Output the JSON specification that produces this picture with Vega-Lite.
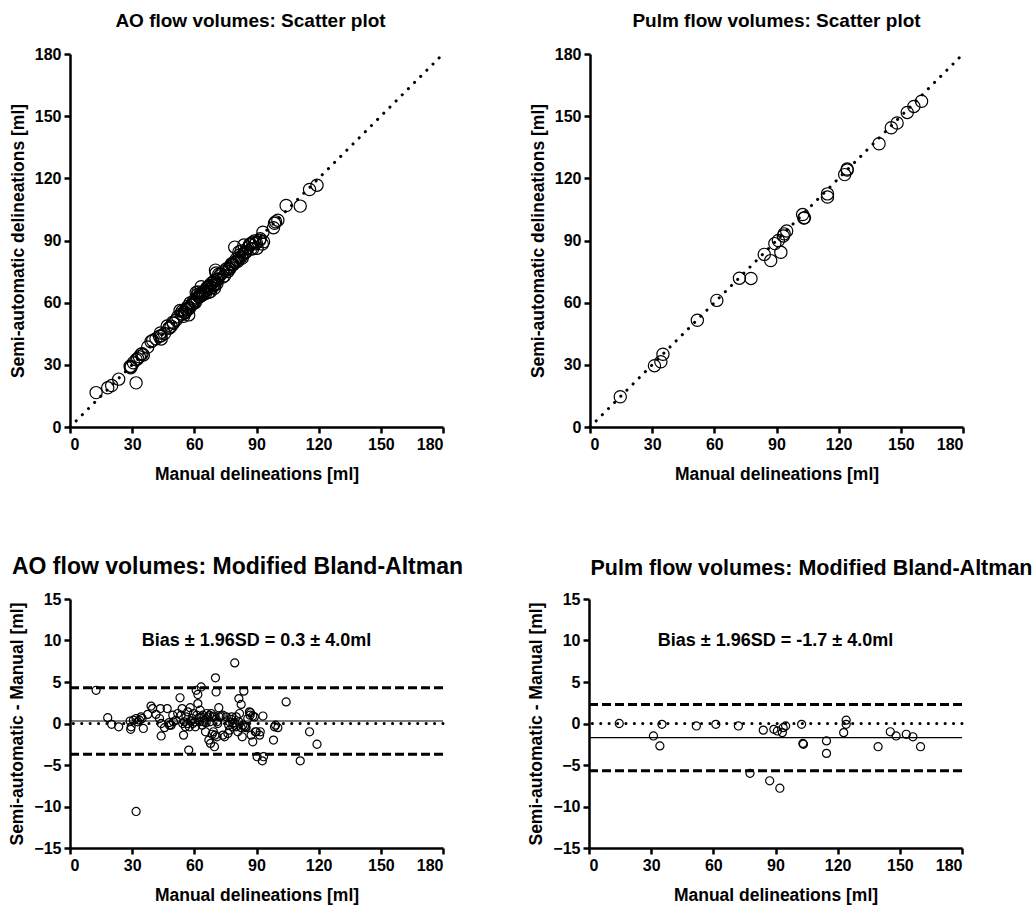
{
  "$schema": "https://vega.github.io/schema/vega-lite/v6.json",
  "padding": {"left": 8, "top": 12, "right": 0, "bottom": 5},
  "datasets": {
    "ao": [
      {"manual": 12.6, "semi": 16.6, "diff": 4.0},
      {"manual": 18.2, "semi": 18.9, "diff": 0.7},
      {"manual": 20.1, "semi": 20.0, "diff": -0.1},
      {"manual": 23.5, "semi": 23.1, "diff": -0.4},
      {"manual": 29.0, "semi": 29.3, "diff": 0.3},
      {"manual": 29.5, "semi": 29.1, "diff": -0.4},
      {"manual": 29.3, "semi": 28.6, "diff": -0.7},
      {"manual": 30.6, "semi": 31.0, "diff": 0.4},
      {"manual": 31.9, "semi": 32.5, "diff": 0.6},
      {"manual": 33.5, "semi": 33.9, "diff": 0.4},
      {"manual": 34.3, "semi": 35.1, "diff": 0.8},
      {"manual": 35.4, "semi": 34.8, "diff": -0.6},
      {"manual": 37.5, "semi": 38.6, "diff": 1.1},
      {"manual": 39.1, "semi": 41.2, "diff": 2.1},
      {"manual": 39.9, "semi": 41.7, "diff": 1.8},
      {"manual": 43.2, "semi": 43.8, "diff": 0.6},
      {"manual": 43.6, "semi": 45.4, "diff": 1.8},
      {"manual": 44.0, "semi": 44.0, "diff": 0.0},
      {"manual": 44.0, "semi": 42.5, "diff": -1.5},
      {"manual": 45.6, "semi": 45.1, "diff": -0.5},
      {"manual": 46.9, "semi": 48.7, "diff": 1.8},
      {"manual": 47.7, "semi": 47.8, "diff": 0.1},
      {"manual": 48.8, "semi": 48.6, "diff": -0.2},
      {"manual": 49.6, "semi": 50.6, "diff": 1.0},
      {"manual": 51.2, "semi": 51.6, "diff": 0.4},
      {"manual": 53.1, "semi": 56.2, "diff": 3.1},
      {"manual": 53.6, "semi": 54.6, "diff": 1.0},
      {"manual": 54.1, "semi": 55.9, "diff": 1.8},
      {"manual": 54.8, "semi": 53.4, "diff": -1.4},
      {"manual": 55.2, "semi": 55.4, "diff": 0.2},
      {"manual": 56.0, "semi": 56.8, "diff": 0.8},
      {"manual": 56.8, "semi": 58.2, "diff": 1.4},
      {"manual": 57.3, "semi": 54.1, "diff": -3.2},
      {"manual": 57.6, "semi": 57.2, "diff": -0.4},
      {"manual": 58.0, "semi": 59.9, "diff": 1.9},
      {"manual": 58.9, "semi": 59.5, "diff": 0.6},
      {"manual": 59.6, "semi": 60.8, "diff": 1.2},
      {"manual": 60.1, "semi": 60.3, "diff": 0.2},
      {"manual": 60.9, "semi": 64.9, "diff": 4.0},
      {"manual": 61.7, "semi": 65.2, "diff": 3.5},
      {"manual": 61.7, "semi": 64.1, "diff": 2.4},
      {"manual": 62.2, "semi": 62.9, "diff": 0.7},
      {"manual": 62.8, "semi": 64.4, "diff": 1.6},
      {"manual": 63.3, "semi": 67.7, "diff": 4.4},
      {"manual": 63.8, "semi": 63.6, "diff": -0.2},
      {"manual": 64.1, "semi": 65.1, "diff": 1.0},
      {"manual": 64.9, "semi": 65.3, "diff": 0.4},
      {"manual": 65.4, "semi": 64.4, "diff": -1.0},
      {"manual": 66.0, "semi": 67.2, "diff": 1.2},
      {"manual": 67.0, "semi": 65.0, "diff": -2.0},
      {"manual": 67.3, "semi": 68.3, "diff": 1.0},
      {"manual": 67.8, "semi": 65.4, "diff": -2.4},
      {"manual": 68.6, "semi": 67.3, "diff": -1.3},
      {"manual": 68.9, "semi": 69.7, "diff": 0.8},
      {"manual": 69.7, "semi": 66.9, "diff": -2.8},
      {"manual": 70.2, "semi": 75.7, "diff": 5.5},
      {"manual": 70.5, "semi": 74.3, "diff": 3.8},
      {"manual": 70.9, "semi": 69.3, "diff": -1.6},
      {"manual": 71.3, "semi": 71.3, "diff": 0.0},
      {"manual": 71.8, "semi": 73.7, "diff": 1.9},
      {"manual": 72.1, "semi": 72.9, "diff": 0.8},
      {"manual": 72.9, "semi": 73.8, "diff": 0.9},
      {"manual": 73.8, "semi": 72.4, "diff": -1.4},
      {"manual": 74.6, "semi": 73.0, "diff": -1.6},
      {"manual": 75.4, "semi": 76.2, "diff": 0.8},
      {"manual": 76.2, "semi": 75.0, "diff": -1.2},
      {"manual": 77.0, "semi": 77.2, "diff": 0.2},
      {"manual": 77.8, "semi": 78.3, "diff": 0.5},
      {"manual": 78.6, "semi": 78.6, "diff": 0.0},
      {"manual": 79.5, "semi": 86.8, "diff": 7.3},
      {"manual": 80.2, "semi": 79.8, "diff": -0.4},
      {"manual": 81.0, "semi": 80.0, "diff": -1.0},
      {"manual": 81.5, "semi": 84.5, "diff": 3.0},
      {"manual": 81.8, "semi": 83.0, "diff": 1.2},
      {"manual": 82.6, "semi": 84.9, "diff": 2.3},
      {"manual": 83.1, "semi": 81.5, "diff": -1.6},
      {"manual": 83.4, "semi": 83.2, "diff": -0.2},
      {"manual": 83.9, "semi": 87.8, "diff": 3.9},
      {"manual": 84.7, "semi": 84.3, "diff": -0.4},
      {"manual": 85.8, "semi": 86.4, "diff": 0.6},
      {"manual": 86.6, "semi": 88.0, "diff": 1.4},
      {"manual": 86.9, "semi": 87.9, "diff": 1.0},
      {"manual": 87.4, "semi": 86.0, "diff": -1.4},
      {"manual": 88.2, "semi": 86.0, "diff": -2.2},
      {"manual": 89.0, "semi": 89.8, "diff": 0.8},
      {"manual": 89.9, "semi": 88.9, "diff": -1.0},
      {"manual": 90.3, "semi": 86.3, "diff": -4.0},
      {"manual": 91.5, "semi": 90.1, "diff": -1.4},
      {"manual": 92.8, "semi": 88.3, "diff": -4.5},
      {"manual": 93.1, "semi": 94.0, "diff": 0.9},
      {"manual": 93.4, "semi": 89.4, "diff": -4.0},
      {"manual": 98.2, "semi": 96.2, "diff": -2.0},
      {"manual": 98.7, "semi": 98.3, "diff": -0.4},
      {"manual": 100.3, "semi": 99.8, "diff": -0.5},
      {"manual": 104.3, "semi": 106.9, "diff": 2.6},
      {"manual": 111.1, "semi": 106.6, "diff": -4.5},
      {"manual": 115.6, "semi": 114.6, "diff": -1.0},
      {"manual": 119.2, "semi": 116.7, "diff": -2.5},
      {"manual": 31.9, "semi": 21.3, "diff": -10.6},
      {"manual": 56.8, "semi": 56.8, "diff": 0.0},
      {"manual": 58.5, "semi": 58.8, "diff": 0.3},
      {"manual": 60.5, "semi": 60.1, "diff": -0.4},
      {"manual": 62.5, "semi": 62.7, "diff": 0.2},
      {"manual": 65.7, "semi": 65.8, "diff": 0.1},
      {"manual": 67.6, "semi": 67.8, "diff": 0.2},
      {"manual": 68.1, "semi": 69.3, "diff": 1.2},
      {"manual": 69.2, "semi": 68.2, "diff": -1.0},
      {"manual": 70.0, "semi": 68.6, "diff": -1.4},
      {"manual": 70.9, "semi": 71.1, "diff": 0.2},
      {"manual": 73.8, "semi": 74.8, "diff": 1.0},
      {"manual": 76.6, "semi": 76.4, "diff": -0.2},
      {"manual": 78.0, "semi": 78.8, "diff": 0.8},
      {"manual": 78.6, "semi": 78.2, "diff": -0.4},
      {"manual": 81.5, "semi": 81.7, "diff": 0.2},
      {"manual": 82.6, "semi": 82.1, "diff": -0.5},
      {"manual": 84.2, "semi": 83.9, "diff": -0.3},
      {"manual": 85.0, "semi": 84.5, "diff": -0.5},
      {"manual": 87.1, "semi": 88.4, "diff": 1.3},
      {"manual": 88.2, "semi": 89.1, "diff": 0.9},
      {"manual": 89.4, "semi": 88.4, "diff": -1.0},
      {"manual": 99.2, "semi": 99.0, "diff": -0.2},
      {"manual": 49.9, "semi": 50.1, "diff": 0.2},
      {"manual": 52.0, "semi": 53.2, "diff": 1.2},
      {"manual": 54.4, "semi": 54.4, "diff": 0.0},
      {"manual": 55.7, "semi": 55.3, "diff": -0.4},
      {"manual": 59.3, "semi": 59.3, "diff": 0.0},
      {"manual": 61.2, "semi": 62.2, "diff": 1.0},
      {"manual": 63.3, "semi": 64.1, "diff": 0.8},
      {"manual": 64.4, "semi": 64.6, "diff": 0.2},
      {"manual": 66.5, "semi": 67.3, "diff": 0.8},
      {"manual": 32.7, "semi": 32.9, "diff": 0.2},
      {"manual": 34.8, "semi": 35.4, "diff": 0.6},
      {"manual": 48.0, "semi": 47.8, "diff": -0.2},
      {"manual": 41.5, "semi": 42.6, "diff": 1.1},
      {"manual": 77.0, "semi": 76.2, "diff": -0.8},
      {"manual": 79.4, "semi": 79.5, "diff": 0.1},
      {"manual": 80.2, "semi": 81.0, "diff": 0.8},
      {"manual": 91.8, "semi": 90.8, "diff": -1.0},
      {"manual": 69.7, "semi": 70.6, "diff": 0.9}
    ],
    "pulm": [
      {"manual": 14.6, "semi": 14.6, "diff": 0.0},
      {"manual": 31.1, "semi": 29.6, "diff": -1.5},
      {"manual": 34.2, "semi": 31.5, "diff": -2.7},
      {"manual": 35.2, "semi": 35.1, "diff": -0.1},
      {"manual": 51.8, "semi": 51.5, "diff": -0.3},
      {"manual": 61.2, "semi": 61.1, "diff": -0.1},
      {"manual": 72.1, "semi": 71.8, "diff": -0.3},
      {"manual": 77.7, "semi": 71.7, "diff": -6.0},
      {"manual": 84.1, "semi": 83.3, "diff": -0.8},
      {"manual": 87.2, "semi": 80.3, "diff": -6.9},
      {"manual": 89.2, "semi": 88.5, "diff": -0.7},
      {"manual": 90.9, "semi": 90.0, "diff": -0.9},
      {"manual": 92.1, "semi": 84.3, "diff": -7.8},
      {"manual": 93.3, "semi": 92.2, "diff": -1.1},
      {"manual": 93.7, "semi": 93.2, "diff": -0.5},
      {"manual": 94.9, "semi": 94.6, "diff": -0.3},
      {"manual": 102.6, "semi": 102.5, "diff": -0.1},
      {"manual": 103.2, "semi": 100.8, "diff": -2.4},
      {"manual": 103.5, "semi": 101.0, "diff": -2.5},
      {"manual": 114.6, "semi": 112.5, "diff": -2.1},
      {"manual": 114.6, "semi": 111.0, "diff": -3.6},
      {"manual": 122.9, "semi": 121.8, "diff": -1.1},
      {"manual": 124.1, "semi": 124.5, "diff": 0.4},
      {"manual": 124.1, "semi": 124.0, "diff": -0.1},
      {"manual": 139.5, "semi": 136.7, "diff": -2.8},
      {"manual": 145.4, "semi": 144.4, "diff": -1.0},
      {"manual": 148.2, "semi": 146.7, "diff": -1.5},
      {"manual": 153.1, "semi": 151.8, "diff": -1.3},
      {"manual": 156.3, "semi": 154.7, "diff": -1.6},
      {"manual": 160.0, "semi": 157.2, "diff": -2.8}
    ],
    "identity": [{"v": 0}, {"v": 180}],
    "aoLines": [{"kind": "bias", "value": 0.3}, {"kind": "limit", "value": 4.3}, {"kind": "limit", "value": -3.7}, {"kind": "zero", "value": 0}],
    "pulmLines": [{"kind": "bias", "value": -1.7}, {"kind": "limit", "value": 2.3}, {"kind": "limit", "value": -5.7}, {"kind": "zero", "value": 0}],
    "aoText": [{"x": 90, "y": 10, "label": "Bias ± 1.96SD = 0.3 ± 4.0ml"}],
    "pulmText": [{"x": 90, "y": 10, "label": "Bias ± 1.96SD = -1.7 ± 4.0ml"}]
  },
  "vconcat": [
    {
      "hconcat": [
        {
          "title": {"text": "AO flow volumes: Scatter plot", "offset": 15, "dx": -6},
          "width": 373, "height": 373,
          "layer": [
            {
              "data": {"name": "identity"},
              "mark": {"type": "line", "color": "black", "strokeWidth": 3, "strokeDash": [0.1, 8.6], "strokeCap": "round"},
              "encoding": {
                "x": {"field": "v", "type": "quantitative", "scale": {"domain": [0, 180], "nice": false}, "axis": {"values": [0, 30, 60, 90, 120, 150, 180], "title": "Manual delineations [ml]"}},
                "y": {"field": "v", "type": "quantitative", "scale": {"domain": [0, 180], "nice": false}, "axis": {"values": [0, 30, 60, 90, 120, 150, 180], "title": "Semi-automatic delineations [ml]"}}
              }
            },
            {
              "data": {"name": "ao"},
              "mark": {"type": "point", "shape": "circle", "filled": false, "color": "black", "strokeWidth": 1.2, "size": 150, "opacity": 1},
              "encoding": {
                "x": {"field": "manual", "type": "quantitative"},
                "y": {"field": "semi", "type": "quantitative"}
              }
            }
          ]
        },
        {
          "title": {"text": "Pulm flow volumes: Scatter plot", "offset": 15},
          "width": 373, "height": 373,
          "layer": [
            {
              "data": {"name": "identity"},
              "mark": {"type": "line", "color": "black", "strokeWidth": 3, "strokeDash": [0.1, 8.6], "strokeCap": "round"},
              "encoding": {
                "x": {"field": "v", "type": "quantitative", "scale": {"domain": [0, 180], "nice": false}, "axis": {"values": [0, 30, 60, 90, 120, 150, 180], "title": "Manual delineations [ml]"}},
                "y": {"field": "v", "type": "quantitative", "scale": {"domain": [0, 180], "nice": false}, "axis": {"values": [0, 30, 60, 90, 120, 150, 180], "title": "Semi-automatic delineations [ml]"}}
              }
            },
            {
              "data": {"name": "pulm"},
              "mark": {"type": "point", "shape": "circle", "filled": false, "color": "black", "strokeWidth": 1.2, "size": 150, "opacity": 1},
              "encoding": {
                "x": {"field": "manual", "type": "quantitative"},
                "y": {"field": "semi", "type": "quantitative"}
              }
            }
          ]
        }
      ],
      "spacing": 80
    },
    {
      "hconcat": [
        {
          "title": {"text": "AO flow volumes: Modified Bland-Altman", "offset": 12, "dx": -19, "fontSize": 23},
          "width": 373, "height": 249,
          "layer": [
            {
              "data": {"name": "aoLines"},
              "transform": [{"filter": "datum.kind === 'zero'"}],
              "mark": {"type": "rule", "color": "black", "strokeWidth": 3, "strokeDash": [0.1, 8.3], "strokeCap": "round"},
              "encoding": {
                "y": {"field": "value", "type": "quantitative", "scale": {"domain": [-15, 15], "nice": false}, "axis": {"values": [-15, -10, -5, 0, 5, 10, 15], "title": "Semi-automatic - Manual [ml]"}}
              }
            },
            {
              "data": {"name": "aoLines"},
              "transform": [{"filter": "datum.kind === 'bias'"}],
              "mark": {"type": "rule", "color": "black", "strokeWidth": 1.2},
              "encoding": {"y": {"field": "value", "type": "quantitative"}}
            },
            {
              "data": {"name": "aoLines"},
              "transform": [{"filter": "datum.kind === 'limit'"}],
              "mark": {"type": "rule", "color": "black", "strokeWidth": 3, "strokeDash": [9, 4]},
              "encoding": {"y": {"field": "value", "type": "quantitative"}}
            },
            {
              "data": {"name": "ao"},
              "mark": {"type": "point", "shape": "circle", "filled": false, "color": "black", "strokeWidth": 1.2, "size": 65, "opacity": 1},
              "encoding": {
                "x": {"field": "manual", "type": "quantitative", "scale": {"domain": [0, 180], "nice": false}, "axis": {"values": [0, 30, 60, 90, 120, 150, 180], "title": "Manual delineations [ml]"}},
                "y": {"field": "diff", "type": "quantitative"}
              }
            },
            {
              "data": {"name": "aoText"},
              "mark": {"type": "text", "fontSize": 18, "fontWeight": "bold", "color": "black"},
              "encoding": {
                "x": {"field": "x", "type": "quantitative"},
                "y": {"field": "y", "type": "quantitative"},
                "text": {"field": "label"}
              }
            }
          ]
        },
        {
          "title": {"text": "Pulm flow volumes: Modified Bland-Altman", "offset": 12, "dx": 36, "fontSize": 21.5},
          "width": 373, "height": 249,
          "layer": [
            {
              "data": {"name": "pulmLines"},
              "transform": [{"filter": "datum.kind === 'zero'"}],
              "mark": {"type": "rule", "color": "black", "strokeWidth": 3, "strokeDash": [0.1, 8.3], "strokeCap": "round"},
              "encoding": {
                "y": {"field": "value", "type": "quantitative", "scale": {"domain": [-15, 15], "nice": false}, "axis": {"values": [-15, -10, -5, 0, 5, 10, 15], "title": "Semi-automatic - Manual [ml]"}}
              }
            },
            {
              "data": {"name": "pulmLines"},
              "transform": [{"filter": "datum.kind === 'bias'"}],
              "mark": {"type": "rule", "color": "black", "strokeWidth": 1.2},
              "encoding": {"y": {"field": "value", "type": "quantitative"}}
            },
            {
              "data": {"name": "pulmLines"},
              "transform": [{"filter": "datum.kind === 'limit'"}],
              "mark": {"type": "rule", "color": "black", "strokeWidth": 3, "strokeDash": [9, 4]},
              "encoding": {"y": {"field": "value", "type": "quantitative"}}
            },
            {
              "data": {"name": "pulm"},
              "mark": {"type": "point", "shape": "circle", "filled": false, "color": "black", "strokeWidth": 1.2, "size": 65, "opacity": 1},
              "encoding": {
                "x": {"field": "manual", "type": "quantitative", "scale": {"domain": [0, 180], "nice": false}, "axis": {"values": [0, 30, 60, 90, 120, 150, 180], "title": "Manual delineations [ml]"}},
                "y": {"field": "diff", "type": "quantitative"}
              }
            },
            {
              "data": {"name": "pulmText"},
              "mark": {"type": "text", "fontSize": 18, "fontWeight": "bold", "color": "black"},
              "encoding": {
                "x": {"field": "x", "type": "quantitative"},
                "y": {"field": "y", "type": "quantitative"},
                "text": {"field": "label"}
              }
            }
          ]
        }
      ],
      "spacing": 63
    }
  ],
  "spacing": 73,
  "config": {
    "view": {"stroke": null},
    "font": "Liberation Sans",
    "axis": {
      "grid": false,
      "domainColor": "black", "domainWidth": 2.5,
      "tickColor": "black", "tickWidth": 2.5, "tickSize": 6,
      "labelFont": "Liberation Sans", "labelFontSize": 16, "labelFontWeight": "bold", "labelColor": "black", "labelPadding": 3,
      "titleFont": "Liberation Sans", "titleFontSize": 17.5, "titleFontWeight": "bold", "titleColor": "black"
    },
    "axisX": {"titlePadding": 13},
    "axisY": {"titlePadding": 7},
    "title": {"font": "Liberation Sans", "fontSize": 19, "fontWeight": "bold", "color": "black"}
  }
}
